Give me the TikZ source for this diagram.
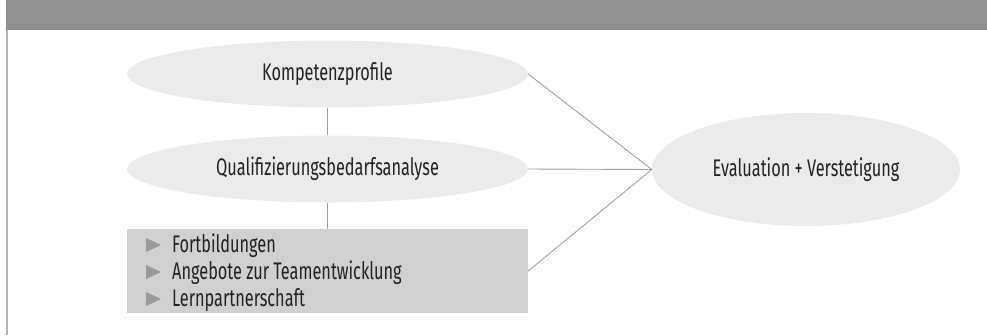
\documentclass[tikz,border=0pt]{standalone}
\usepackage{fontspec}
\setmainfont{Fira Sans}[FakeStretch=0.68]
\usetikzlibrary{shapes.geometric}
\definecolor{hdr}{HTML}{909090}
\definecolor{frameline}{HTML}{B3B3B3}
\definecolor{ellfill}{HTML}{EBEBEB}
\definecolor{boxfill}{HTML}{D0D0D0}
\definecolor{conn}{HTML}{A0A0A0}
\definecolor{bullet}{HTML}{9A9A9A}
\definecolor{txt}{HTML}{222222}
\tikzset{
  ell/.style={ellipse, fill=ellfill, inner sep=0pt, text=txt, font=\fontsize{24}{28}\selectfont},
  conline/.style={draw=conn, line width=0.9pt},
  itemtext/.style={anchor=base west, inner sep=0pt, text=txt, font=\fontsize{24}{28}\selectfont},
}
\begin{document}
\begin{tikzpicture}[x=1pt,y=-1pt]
\useasboundingbox (0,0) rectangle (987,335);
% header bar and frame line
\fill[hdr] (6,0) rectangle (987,30);
\fill[frameline] (5.5,30) rectangle (7.5,335);
% nodes
\node[ell, minimum width=401pt, minimum height=67pt] (k) at (327.5,74) {Kompetenzprofile};
\node[ell, minimum width=401pt, minimum height=67pt] (q) at (327.5,169) {Qualifizierungsbedarfsanalyse};
\node[ell, minimum width=308pt, minimum height=113pt] (e) at (806,169.5) {Evaluation + Verstetigung};
\node[fill=boxfill, inner sep=0pt, minimum width=401pt, minimum height=84pt] (box) at (327.5,271) {};
% list items
\foreach \y/\t [count=\i] in {252/Fortbildungen, 279/Angebote zur Teamentwicklung, 306/Lernpartnerschaft}{
  \fill[bullet] (146,\y-14) -- (161,\y-7) -- (146,\y) -- cycle;
  \node[itemtext] (item\i) at (172,\y) {\t};
}
% connectors
\draw[conline] (k.south) -- (q.north);
\draw[conline] (q.south) -- (box.north);
\draw[conline] (k.east) -- (e.west);
\draw[conline] (q.east) -- (e.west);
\draw[conline] (box.east) -- (e.west);
\end{tikzpicture}
\end{document}
